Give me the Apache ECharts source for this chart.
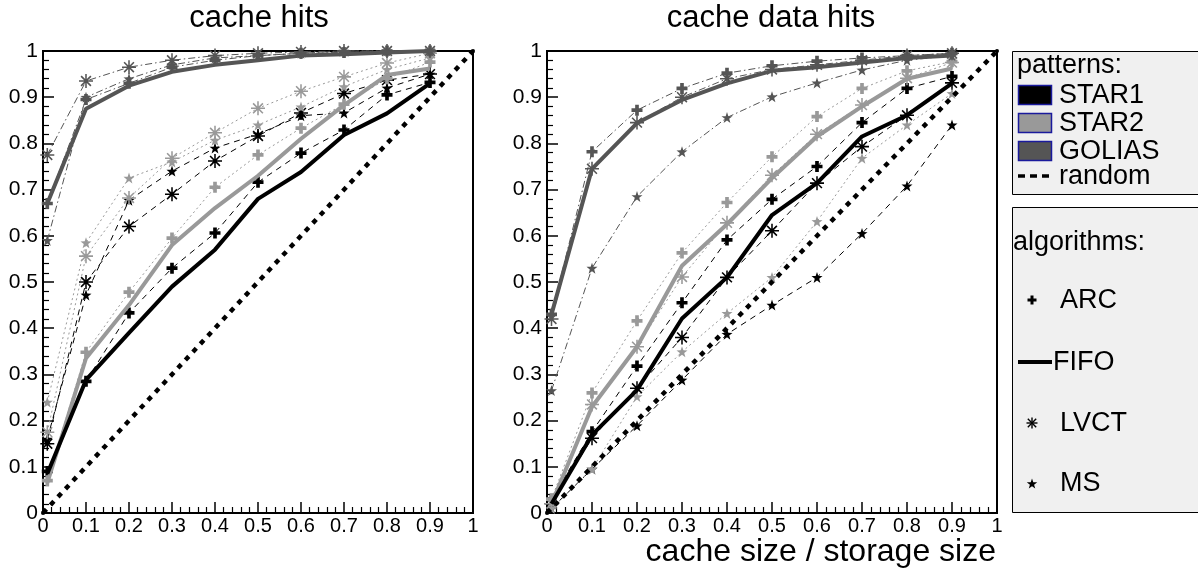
<!DOCTYPE html>
<html><head><meta charset="utf-8">
<script src="https://cdn.jsdelivr.net/npm/echarts@6/dist/echarts.min.js"></script>
<style>html,body{margin:0;padding:0;background:#fff}#c{width:1198px;height:572px}</style>
</head><body><div id="c"></div><script>
// ---- data ----
const cacheSizes = [0.01, 0.1, 0.2, 0.3, 0.4, 0.5, 0.6, 0.7, 0.8, 0.9];
const tickLabels = ['0','0.1','0.2','0.3','0.4','0.5','0.6','0.7','0.8','0.9','1'];
const patterns = ['STAR1', 'STAR2', 'GOLIAS'];
const algorithms = ['ARC', 'FIFO', 'LVCT', 'MS'];

// cache hits (left panel)
const hitsStar1Arc  = [0.09, 0.285, 0.433, 0.53, 0.606, 0.716, 0.779, 0.829, 0.905, 0.932];
const hitsStar1Fifo = [0.085, 0.288, 0.39, 0.49, 0.57, 0.68, 0.738, 0.818, 0.865, 0.93];
const hitsStar1Lvct = [0.15, 0.5, 0.62, 0.69, 0.762, 0.816, 0.866, 0.908, 0.937, 0.95];
const hitsStar1Ms   = [0.16, 0.472, 0.677, 0.74, 0.79, 0.82, 0.86, 0.866, 0.92, 0.95];
const hitsStar2Arc  = [0.07, 0.348, 0.478, 0.595, 0.705, 0.775, 0.833, 0.885, 0.94, 0.976];
const hitsStar2Fifo = [0.065, 0.335, 0.45, 0.58, 0.66, 0.73, 0.81, 0.883, 0.948, 0.962];
const hitsStar2Lvct = [0.175, 0.556, 0.682, 0.768, 0.823, 0.876, 0.913, 0.944, 0.974, 0.995];
const hitsStar2Ms   = [0.24, 0.585, 0.725, 0.76, 0.807, 0.84, 0.879, 0.923, 0.96, 0.985];
const hitsGoliasArc  = [0.67, 0.895, 0.93, 0.965, 0.98, 0.99, 0.995, 0.997, 1.0, 1.0];
const hitsGoliasFifo = [0.67, 0.875, 0.925, 0.955, 0.97, 0.98, 0.99, 0.993, 0.997, 1.0];
const hitsGoliasLvct = [0.775, 0.935, 0.965, 0.98, 0.99, 0.995, 0.998, 1.0, 1.0, 1.0];
const hitsGoliasMs   = [0.59, 0.9, 0.94, 0.97, 0.985, 0.99, 0.995, 1.0, 1.0, 1.0];

// cache data hits (right panel)
const dataStar1Arc  = [0.03, 0.176, 0.318, 0.455, 0.591, 0.679, 0.75, 0.845, 0.919, 0.945];
const dataStar1Fifo = [0.02, 0.169, 0.266, 0.421, 0.51, 0.645, 0.714, 0.815, 0.861, 0.93];
const dataStar1Lvct = [0.02, 0.162, 0.27, 0.38, 0.51, 0.611, 0.714, 0.793, 0.861, 0.931];
const dataStar1Ms   = [0.01, 0.095, 0.189, 0.288, 0.387, 0.45, 0.51, 0.605, 0.708, 0.84];
const dataStar2Arc  = [0.03, 0.26, 0.416, 0.563, 0.672, 0.771, 0.858, 0.919, 0.957, 0.977];
const dataStar2Fifo = [0.02, 0.23, 0.36, 0.535, 0.625, 0.725, 0.815, 0.88, 0.94, 0.962];
const dataStar2Lvct = [0.02, 0.235, 0.36, 0.511, 0.628, 0.731, 0.82, 0.883, 0.941, 0.975];
const dataStar2Ms   = [0.01, 0.095, 0.252, 0.349, 0.432, 0.51, 0.631, 0.768, 0.84, 0.908];
const dataGoliasArc  = [0.43, 0.782, 0.872, 0.919, 0.952, 0.968, 0.978, 0.985, 0.99, 0.995];
const dataGoliasFifo = [0.43, 0.745, 0.844, 0.894, 0.93, 0.957, 0.965, 0.975, 0.985, 0.99];
const dataGoliasLvct = [0.42, 0.745, 0.845, 0.9, 0.94, 0.96, 0.97, 0.98, 0.99, 0.995];
const dataGoliasMs   = [0.265, 0.53, 0.685, 0.782, 0.856, 0.901, 0.931, 0.959, 0.98, 0.99];

const randomX = [0, 1];
const randomY = [0, 1];

// ---- styling ----
const FONT = '"Liberation Sans", Arial, Helvetica, sans-serif';
const patColor = { STAR1: '#000000', STAR2: '#999999', GOLIAS: '#555555' };
const patDash = { STAR1: [6, 5], STAR2: [2, 3], GOLIAS: [7, 3, 1.5, 3] };
const SYM_PLUS = 'path://M-1,-3L1,-3L1,-1L3,-1L3,1L1,1L1,3L-1,3L-1,1L-3,1L-3,-1L-1,-1Z';
const SYM_AST = 'path://M-0.11,-1L0.11,-1L0.11,1L-0.11,1Z M-1,-0.11L1,-0.11L1,0.11L-1,0.11Z M-0.78,-0.62L-0.62,-0.78L0.78,0.62L0.62,0.78Z M0.62,-0.78L0.78,-0.62L-0.62,0.78L-0.78,0.62Z';
const SYM_STAR = 'path://M0,-1L0.235,-0.324L0.951,-0.309L0.38,0.124L0.588,0.809L0,0.4L-0.588,0.809L-0.38,0.124L-0.951,-0.309L-0.235,-0.324Z';
const algSym = { ARC: [SYM_PLUS, 11], LVCT: [SYM_AST, 14], MS: [SYM_STAR, 11] };

const panels = [
  { STAR1: { ARC: hitsStar1Arc, FIFO: hitsStar1Fifo, LVCT: hitsStar1Lvct, MS: hitsStar1Ms },
    STAR2: { ARC: hitsStar2Arc, FIFO: hitsStar2Fifo, LVCT: hitsStar2Lvct, MS: hitsStar2Ms },
    GOLIAS: { ARC: hitsGoliasArc, FIFO: hitsGoliasFifo, LVCT: hitsGoliasLvct, MS: hitsGoliasMs } },
  { STAR1: { ARC: dataStar1Arc, FIFO: dataStar1Fifo, LVCT: dataStar1Lvct, MS: dataStar1Ms },
    STAR2: { ARC: dataStar2Arc, FIFO: dataStar2Fifo, LVCT: dataStar2Lvct, MS: dataStar2Ms },
    GOLIAS: { ARC: dataGoliasArc, FIFO: dataGoliasFifo, LVCT: dataGoliasLvct, MS: dataGoliasMs } }
];

const pairs = (ys) => cacheSizes.map((x, i) => [x, ys[i]]);
const series = [];
panels.forEach((panel, pi) => {
  patterns.forEach(p => {
    ['ARC', 'LVCT', 'MS'].forEach(a => {
      series.push({
        type: 'line', name: p + ' ' + a, xAxisIndex: pi, yAxisIndex: pi,
        data: pairs(panel[p][a]), clip: false,
        symbol: algSym[a][0], symbolSize: algSym[a][1],
        itemStyle: { color: patColor[p] },
        lineStyle: { color: patColor[p], width: 1, type: patDash[p] },
        z: 3
      });
    });
  });
  ['STAR2', 'GOLIAS', 'STAR1'].forEach(p => {
    series.push({
      type: 'line', name: p + ' FIFO', xAxisIndex: pi, yAxisIndex: pi,
      data: pairs(panel[p].FIFO), symbol: 'none', clip: false,
      lineStyle: { color: patColor[p], width: 4 }, z: 4
    });
  });
  series.push({
    type: 'line', name: 'random', xAxisIndex: pi, yAxisIndex: pi,
    data: randomX.map((x, i) => [x, randomY[i]]), clip: false,
    symbol: 'circle', symbolSize: 4, itemStyle: { color: '#000' },
    lineStyle: { color: '#000', width: 4.5, type: [5, 6] }, z: 5
  });
});

const fmt = (v) => tickLabels[Math.round(v * 10)];
function xAxisDef(gi) {
  return {
    type: 'value', gridIndex: gi, min: 0, max: 1, interval: 0.1,
    axisLine: { onZero: false, lineStyle: { color: '#000', width: 2 } },
    axisTick: { inside: true, length: 11, lineStyle: { color: '#000', width: 1.5 } },
    minorTick: { show: true, splitNumber: 5, length: 6, lineStyle: { color: '#000', width: 1.2 } },
    axisLabel: { fontSize: 20, color: '#000', fontFamily: FONT, margin: 3, formatter: fmt },
    splitLine: { show: false }
  };
}
function yAxisDef(gi) {
  return {
    type: 'value', gridIndex: gi, min: 0, max: 1, interval: 0.1,
    axisLine: { onZero: false, lineStyle: { color: '#000', width: 2 } },
    axisTick: { inside: true, length: 11, lineStyle: { color: '#000', width: 1.5 } },
    minorTick: { show: true, splitNumber: 5, length: 6, lineStyle: { color: '#000', width: 1.2 } },
    axisLabel: { fontSize: 21, color: '#000', fontFamily: FONT, margin: 5, formatter: fmt },
    splitLine: { show: false }
  };
}

const LX = 1032;
const LF = 27;
function txt(s, x, y, size) {
  return { type: 'text', x: x, y: y, style: { text: s, fill: '#000', font: size + 'px ' + FONT, verticalAlign: 'middle' } };
}
function starPts(cx, cy, r) {
  const pts = [];
  for (let k = 0; k < 10; k++) {
    const ang = -Math.PI / 2 + k * Math.PI / 5;
    const rr = k % 2 === 0 ? r : r * 0.4;
    pts.push([cx + rr * Math.cos(ang), cy + rr * Math.sin(ang)]);
  }
  return pts;
}
const graphic = [
  { type: 'text', x: 259, y: 18, style: { text: 'cache hits', fill: '#000', font: '31px ' + FONT, align: 'center', verticalAlign: 'middle' } },
  { type: 'text', x: 771, y: 18, style: { text: 'cache data hits', fill: '#000', font: '31px ' + FONT, align: 'center', verticalAlign: 'middle' } },
  { type: 'text', x: 996, y: 552, style: { text: 'cache size / storage size', fill: '#000', font: '32px ' + FONT, align: 'right', verticalAlign: 'middle' } },
  { type: 'rect', shape: { x: 1012.5, y: 51.5, width: 200, height: 143 }, style: { fill: '#f0f0f0', stroke: '#000', lineWidth: 1 } },
  txt('patterns:', 1017, 66, LF),
  { type: 'rect', shape: { x: 1018.5, y: 85.5, width: 33, height: 19 }, style: { fill: patColor.STAR1, stroke: '#1a1a9c', lineWidth: 1.5 } },
  txt('STAR1', 1059, 96, LF),
  { type: 'rect', shape: { x: 1018.5, y: 113.5, width: 33, height: 19 }, style: { fill: patColor.STAR2, stroke: '#1a1a9c', lineWidth: 1.5 } },
  txt('STAR2', 1059, 124, LF),
  { type: 'rect', shape: { x: 1018.5, y: 141.5, width: 33, height: 19 }, style: { fill: patColor.GOLIAS, stroke: '#1a1a9c', lineWidth: 1.5 } },
  txt('GOLIAS', 1059, 152, LF),
  { type: 'line', shape: { x1: 1018, y1: 176, x2: 1053, y2: 176 }, style: { stroke: '#000', lineWidth: 3.5, lineDash: [7, 5] } },
  txt('random', 1059, 177, LF),
  { type: 'rect', shape: { x: 1012.5, y: 207.5, width: 200, height: 305 }, style: { fill: '#f0f0f0', stroke: '#000', lineWidth: 1 } },
  txt('algorithms:', 1013, 243, LF),
  { type: 'rect', shape: { x: LX - 4.5, y: 298.5, width: 9, height: 3 }, style: { fill: '#000' } },
  { type: 'rect', shape: { x: LX - 1.5, y: 295.5, width: 3, height: 9 }, style: { fill: '#000' } },
  txt('ARC', 1060, 301, LF),
  { type: 'line', shape: { x1: 1018, y1: 362, x2: 1052, y2: 362 }, style: { stroke: '#000', lineWidth: 4 } },
  txt('FIFO', 1053, 363, LF),
  { type: 'line', shape: { x1: LX - 5.5, y1: 423, x2: LX + 5.5, y2: 423 }, style: { stroke: '#000', lineWidth: 1.4 } },
  { type: 'line', shape: { x1: LX, y1: 417.5, x2: LX, y2: 428.5 }, style: { stroke: '#000', lineWidth: 1.4 } },
  { type: 'line', shape: { x1: LX - 4.2, y1: 418.8, x2: LX + 4.2, y2: 427.2 }, style: { stroke: '#000', lineWidth: 1.4 } },
  { type: 'line', shape: { x1: LX + 4.2, y1: 418.8, x2: LX - 4.2, y2: 427.2 }, style: { stroke: '#000', lineWidth: 1.4 } },
  txt('LVCT', 1060, 424, LF),
  { type: 'polygon', shape: { points: starPts(LX, 484, 5.5) }, style: { fill: '#000' } },
  txt('MS', 1060, 484, LF)
];

const chart = echarts.init(document.getElementById('c'), null, { renderer: 'canvas' });
chart.setOption({
  animation: false,
  backgroundColor: '#fff',
  grid: [
    { left: 43, top: 51, width: 430, height: 462, show: true, borderColor: '#000', borderWidth: 2, backgroundColor: 'transparent' },
    { left: 547, top: 51, width: 450, height: 462, show: true, borderColor: '#000', borderWidth: 2, backgroundColor: 'transparent' }
  ],
  xAxis: [xAxisDef(0), xAxisDef(1)],
  yAxis: [yAxisDef(0), yAxisDef(1)],
  series: series,
  graphic: graphic
});
</script></body></html>
